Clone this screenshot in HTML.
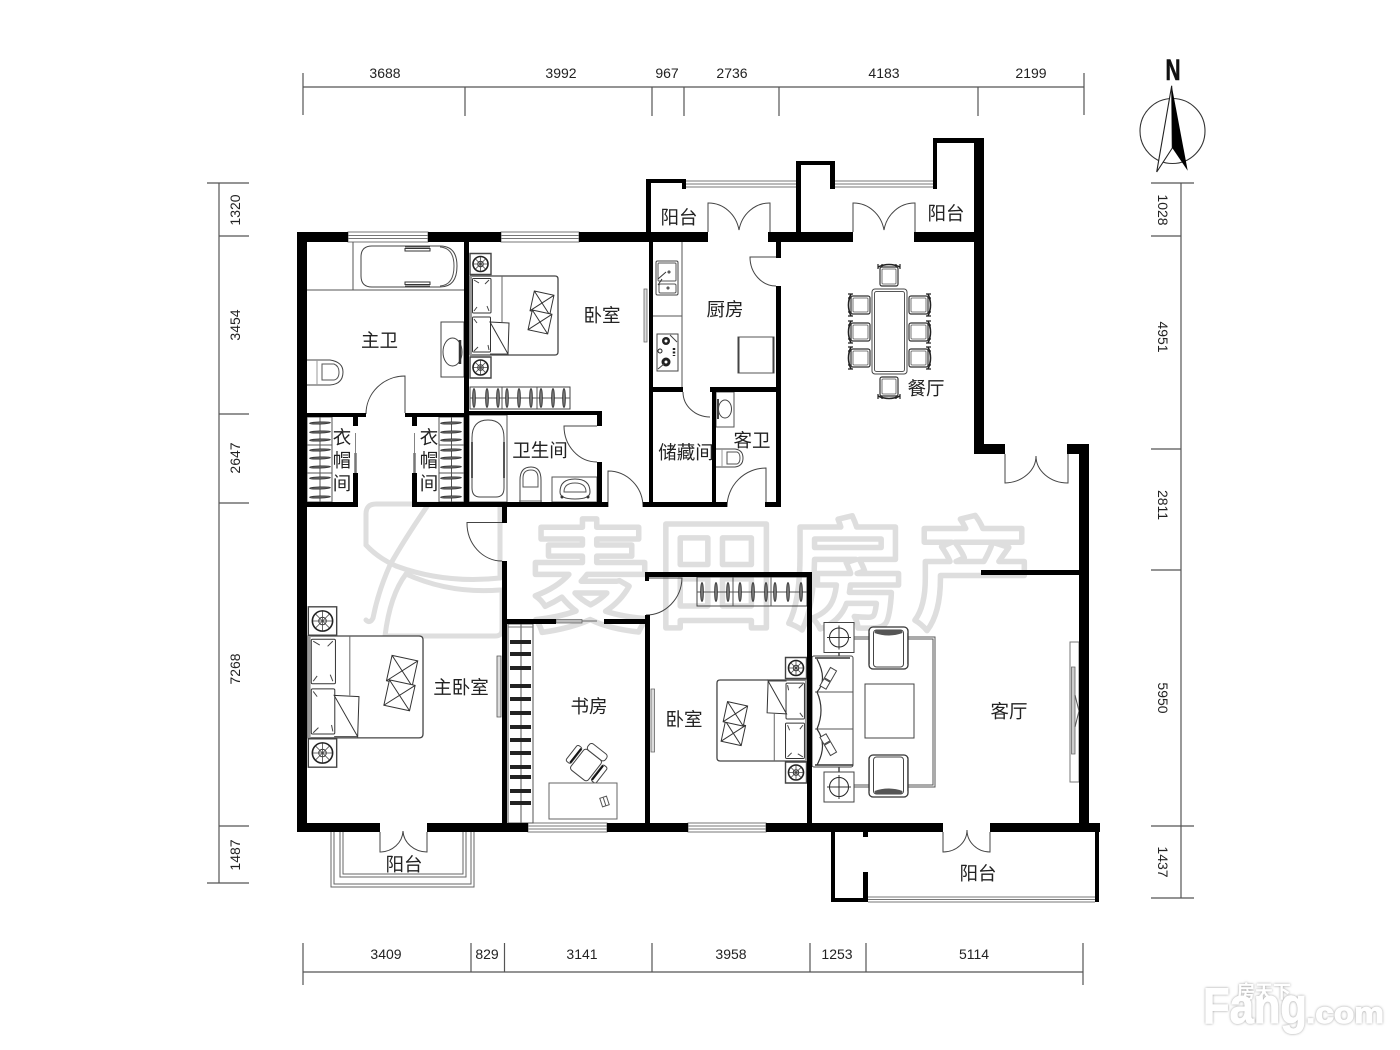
<!DOCTYPE html>
<html><head><meta charset="utf-8"><style>
html,body{margin:0;padding:0;background:#fff;width:1400px;height:1050px;overflow:hidden}
svg{display:block}
svg *{vector-effect:non-scaling-stroke}
.t{font:18.5px "Liberation Sans","Noto Sans CJK SC",sans-serif;text-anchor:middle;fill:#222}
.d{font:14px "Liberation Sans",sans-serif;text-anchor:middle;fill:#222}
.f{fill:none;stroke:#555;stroke-width:1}
.fw{fill:#fff;stroke:#444;stroke-width:1}
.dim{stroke:#555;stroke-width:1.2;fill:none}
.door{fill:none;stroke:#444;stroke-width:1}
.wm{font:bold 120px "Noto Sans CJK SC","Liberation Sans",sans-serif;fill:#fff;stroke:#dedede;stroke-width:5.5;stroke-linejoin:round;text-anchor:middle}
</style></head><body>
<svg width="1400" height="1050" viewBox="0 0 1400 1050" xmlns="http://www.w3.org/2000/svg">
<defs>
<g id="ns"><rect x="-10.5" y="-10.5" width="21" height="21" fill="#fff" stroke="#444" stroke-width="1.4"/><circle r="7.5" fill="#fff" stroke="#222" stroke-width="1.6"/><circle r="2.8" fill="none" stroke="#333"/><path d="M-7 0H7M0-7V7M-5-5L5 5M-5 5L5-5" stroke="#444" stroke-width=".8"/></g>
<g id="cu"><path d="M-11-9L9-11L11 9L-9 11Z M-11-9L11 9 M9-11L-9 11" fill="#fff" stroke="#333" stroke-width="1"/></g>
<g id="bed">
<path d="M0 0H85Q88 0 88 3V76Q88 79 85 79H0Z" fill="#fff" stroke="#444" stroke-width="1.3"/>
<rect x="0" y="0" width="2" height="79" fill="#999"/>
<path d="M32 0V46" stroke="#666" fill="none"/>
<rect x="2.5" y="2.5" width="18.5" height="34.5" rx="1" fill="#fff" stroke="#333"/>
<rect x="2.5" y="41" width="18" height="35" rx="1" fill="#fff" stroke="#333"/>
<path d="M4 4L9 7M19 4L15 8M4 35L7 31M19 35L17 30M4 43L7 47M19 74L18 69M4 75L8 71" stroke="#444" fill="none"/>
<path d="M20 46L39 47L38 78Z" fill="#fff" stroke="#333"/>
<path d="M38 78H20" stroke="#444"/>
<use href="#cu" transform="translate(72,27) rotate(18)"/>
<use href="#cu" transform="translate(70,46) rotate(18)"/>
</g>
<ellipse id="sv" rx="1.4" ry="9.5" fill="#777" stroke="#333" stroke-width=".8"/>
<ellipse id="sh" rx="10.5" ry="1.1" fill="#666" stroke="#333" stroke-width=".7" transform="rotate(-2)"/>
<g id="ch"><path d="M-11-8Q0-13 11-8" fill="none" stroke="#222" stroke-width="1.6"/><path d="M-11-11V-6M11-11V-6M-7-11V-6M7-11V-6" stroke="#222" stroke-width="1.2"/><rect x="-9" y="-8" width="18" height="19" rx="2" fill="#fff" stroke="#333" stroke-width="1.2"/><rect x="-7" y="-6" width="14" height="15" rx="1" fill="none" stroke="#555" stroke-width=".8"/></g>
<g id="ac"><rect x="-19.5" y="-21" width="39" height="42" rx="4" fill="#fff" stroke="#333" stroke-width="1.3"/><rect x="-15" y="-18" width="30" height="37" rx="3" fill="#fff" stroke="#444"/><path d="M-14-15Q0-10 14-15L13-18H-13Z" fill="#555"/><path d="M-19 -15V16M19 -15V16" stroke="#666" stroke-width="1"/></g>
<g id="lamp"><rect x="-15" y="-15" width="30" height="30" fill="#fff" stroke="#444"/><circle r="9.5" fill="none" stroke="#222"/><path d="M-12 0H12M0-12V12" stroke="#333"/></g>
</defs>

<rect width="1400" height="1050" fill="#fff"/>

<!-- watermark -->
<g>
<text class="wm" x="590" y="621">麦</text>
<text class="wm" x="716" y="618">田</text>
<text class="wm" x="846" y="618">房</text>
<text class="wm" x="972" y="618">产</text>
<g fill="none" stroke="#dedede" stroke-width="5" stroke-linecap="round">
<path d="M440 504H376Q366 504 366 514V545Q378 558 396 566"/>
<path d="M428 505Q404 540 390 565Q378 592 373 618Q370 624 366 620"/>
<path d="M396 566Q445 584 500 578M406 574Q450 594 500 590"/>
<path d="M385 636Q390 595 406 574M386 636H495Q502 636 502 630V590"/>
<path d="M500 504V578"/>
</g>
</g>

<!-- dimensions -->
<g class="dim">
<path d="M303 87H1084M303 73V115M465 87V116M652 87V116M684 87V116M779 87V116M978 87V116M1084 73V115"/>
<path d="M303 972H1083M303 943V985M471 943V972M504.500 943V972M652 943V972M810 943V972M866 943V972M1083 943V985"/>
<path d="M219 183V883M207 183H249M219 236H249M219 414H249M219 503H249M219 826H249M207 883H249"/>
<path d="M1181 183V898M1151 183H1194M1151 236H1181M1151 449H1181M1151 570H1181M1151 826H1194M1151 898H1194"/>
</g>
<g class="d">
<text class="d" x="385" y="78">3688</text><text class="d" x="561" y="78">3992</text><text class="d" x="667" y="78">967</text><text class="d" x="732" y="78">2736</text><text class="d" x="884" y="78">4183</text><text class="d" x="1031" y="78">2199</text>
<text class="d" x="386" y="959">3409</text><text class="d" x="487" y="959">829</text><text class="d" x="582" y="959">3141</text><text class="d" x="731" y="959">3958</text><text class="d" x="837" y="959">1253</text><text class="d" x="974" y="959">5114</text>
<text class="d" transform="translate(240,210) rotate(-90)">1320</text><text class="d" transform="translate(240,325) rotate(-90)">3454</text><text class="d" transform="translate(240,458) rotate(-90)">2647</text><text class="d" transform="translate(240,669) rotate(-90)">7268</text><text class="d" transform="translate(240,855) rotate(-90)">1487</text>
<text class="d" transform="translate(1158,210) rotate(90)">1028</text><text class="d" transform="translate(1158,337) rotate(90)">4951</text><text class="d" transform="translate(1158,505) rotate(90)">2811</text><text class="d" transform="translate(1158,698) rotate(90)">5950</text><text class="d" transform="translate(1158,862) rotate(90)">1437</text>
</g>

<!-- compass -->
<text x="1173" y="80" font-family="Liberation Sans" font-weight="bold" font-size="30" text-anchor="middle" textLength="15" lengthAdjust="spacingAndGlyphs" fill="#111" stroke="#111" stroke-width=".6">N</text>
<circle cx="1172.500" cy="131" r="32.500" fill="none" stroke="#333" stroke-width="1.1"/>
<path d="M1171.700 85.700L1156.700 172L1172.300 148Z" fill="#fff" stroke="#222" stroke-width="1.1"/>
<path d="M1171.700 85.700L1172.300 148L1187.700 170.700Z" fill="#000"/>

<!-- windows -->
<g fill="#fff" stroke="#777" stroke-width="1">
<rect x="348" y="232" width="80" height="10"/><path d="M348 235.500H428M348 238.500H428"/>
<rect x="501" y="232" width="78" height="10"/><path d="M501 235.500H579M501 238.500H579"/>
<rect x="528" y="823" width="79" height="9"/><path d="M528 826H607M528 829H607"/>
<rect x="688" y="823" width="78" height="9"/><path d="M688 826H766M688 829H766"/>
<path d="M686 181H796M686 184H796M686 187H796"/>
<path d="M835 181H933M835 184H933M835 187H933"/>
<path d="M868 897H1095M868 899.500H1095M868 902H1095"/>
</g>
<!-- balcony 1 rail -->
<path d="M331 832V887H474V832M334 832V884H471V832M340 832V877H466V832M343 832V874H463V832" fill="none" stroke="#666"/>

<!-- fixtures: master bath -->
<path d="M307 290H464M353 242V290" class="f"/>
<path d="M372 246H440Q457 246 457 266Q457 287 440 287H372Q361 287 361 276V257Q361 246 372 246Z" class="fw"/>
<path d="M440 247Q454 248 454 266Q454 285 440 286" class="f"/>
<path d="M405 247H430M405 286H430" stroke="#444"/>
<path d="M405 248.500H430V251H405ZM405 282H430V284.500H405Z" fill="#fff" stroke="#333"/>
<rect x="441" y="322" width="23" height="55" class="fw"/>
<ellipse cx="452.500" cy="352" rx="9.500" ry="14" class="fw"/><path d="M460 340V364" stroke="#333" stroke-width="2.500"/>
<path d="M307 360H330Q343 362 343 372Q343 384 330 385H307" class="fw"/><path d="M322 364H334Q339 366 339 372Q339 379 334 380H322Z" class="f"/><path d="M317 360V385" stroke="#999"/>
<path class="door" d="M405 413V376A39 38 0 0 0 366 414"/>

<!-- wardrobes left -->
<g class="f">
<rect x="307" y="417" width="25" height="85"/><path d="M307 445H332M307 473H332M320 417V502"/>
<rect x="439" y="417" width="25" height="85"/><path d="M439 445H464M439 473H464M451.500 417V502"/>
</g>
<g>
<use href="#sh" x="320" y="423"/><use href="#sh" x="320" y="432"/><use href="#sh" x="320" y="440"/><use href="#sh" x="320" y="450"/><use href="#sh" x="320" y="458"/><use href="#sh" x="320" y="467"/><use href="#sh" x="320" y="478"/><use href="#sh" x="320" y="488"/><use href="#sh" x="320" y="497"/>
<use href="#sh" x="451" y="423"/><use href="#sh" x="451" y="432"/><use href="#sh" x="451" y="440"/><use href="#sh" x="451" y="450"/><use href="#sh" x="451" y="458"/><use href="#sh" x="451" y="467"/><use href="#sh" x="451" y="478"/><use href="#sh" x="451" y="488"/><use href="#sh" x="451" y="497"/>
</g>
<path d="M355.500 433V453M414.500 433V453" stroke="#666" stroke-width=".8"/>
<path d="M355.500 453V473M414.500 453V473" stroke="#777" stroke-width="2.500"/>

<!-- bedroom 1 -->
<use href="#ns" transform="translate(480.500,264)"/>
<use href="#ns" transform="translate(480.500,367.500)"/>
<use href="#bed" transform="translate(470,276)"/>
<g class="f"><rect x="470" y="387" width="100" height="22" stroke="#444"/><path d="M470 398H570M502 387V409M537 387V409"/></g>
<g><use href="#sv" x="474" y="398"/><use href="#sv" x="487" y="398"/><use href="#sv" x="498" y="398"/><use href="#sv" x="507" y="398"/><use href="#sv" x="519" y="398"/><use href="#sv" x="531" y="398"/><use href="#sv" x="541" y="398"/><use href="#sv" x="553" y="398"/><use href="#sv" x="564" y="398"/></g>

<!-- bath 2 -->
<rect x="469" y="415" width="38" height="87" class="f"/>
<path d="M472 438Q472 420 488 420Q504 420 504 438V488Q504 497 496 497H480Q472 497 472 488Z" class="fw"/>
<path d="M472 442V478M504 442V478" stroke="#555" stroke-width="2"/>
<path d="M520 502V480Q520 467 531 467Q541 467 541 480V502" class="fw"/><path d="M523 487V478Q523 470 531 470Q538 470 538 478V487Z" class="f"/><path d="M519 501H542" stroke="#666"/>
<rect x="552" y="477" width="45" height="25" class="f"/>
<path d="M560 492Q560 479 575 479Q590 479 590 492Q590 499 575 499Q560 499 560 492Z" class="fw"/><path d="M564 492Q564 483 575 483Q586 483 586 492Z" class="f"/><circle cx="562" cy="497" r="1.500" fill="#333"/><circle cx="588" cy="497" r="1.500" fill="#333"/>
<path class="door" d="M597 426H564A33 36 0 0 0 597 462"/>
<path class="door" d="M608 507V471A35 36 0 0 1 643 507"/>

<!-- kitchen -->
<path d="M682 242V387M653 316H682" class="f" stroke="#777"/>
<rect x="656" y="261" width="22" height="34" rx="1.500" class="fw"/>
<rect x="658" y="263" width="18" height="18" rx="1" class="f"/><rect x="659" y="284" width="17" height="9" rx="1.500" class="f"/>
<path d="M658 279L666 272M658 285L662 279" stroke="#333"/><circle cx="669" cy="272" r="1" fill="none" stroke="#333"/><circle cx="668" cy="288" r="1" fill="none" stroke="#333"/>
<rect x="657" y="334" width="21" height="37" class="fw"/>
<circle cx="666" cy="341" r="4" fill="#222"/><circle cx="666" cy="341" r="1.500" fill="#fff"/><circle cx="666" cy="362" r="4.500" fill="#222"/><circle cx="666" cy="362" r="1.500" fill="#fff"/><circle cx="660" cy="351" r="2" fill="none" stroke="#222"/>
<path d="M674 348V356" stroke="#222" stroke-width="2.500" stroke-dasharray="2 1.500"/><path d="M670 335L677 342M658 369L664 364" stroke="#444"/>
<rect x="644" y="289" width="3" height="53" fill="#ddd" stroke="#666" stroke-width=".8"/>
<rect x="738" y="337" width="36" height="36" fill="#fff" stroke="#555"/><path d="M738.500 337V373M773.500 337V373" stroke="#444" stroke-width="2"/>
<path class="door" d="M683 392A27 25 0 0 0 710 417"/>
<path class="door" d="M776 257H750A26 29 0 0 0 776 286"/>
<path class="door" d="M708 232V203A31 33 0 0 1 739 230A31 33 0 0 1 770 203V232"/>
<path class="door" d="M853 232V203A31 33 0 0 1 884 230A31 33 0 0 1 915 203V232"/>
<path class="door" d="M1005 454V483A32 27 0 0 0 1036 456A32 27 0 0 0 1068 483V454"/>

<!-- guest bath -->
<rect x="716" y="392" width="18" height="35" class="f"/>
<ellipse cx="725" cy="409" rx="6.500" ry="9" class="fw"/><path d="M718 399V419" stroke="#444" stroke-width="2"/>
<path d="M716 449H735Q743 450 743 458Q743 466 735 467H716" class="fw"/><path d="M727 452H737Q740 453 740 458Q740 463 737 464H727Z" class="f"/><path d="M722 449V467" stroke="#999"/>
<path class="door" d="M766 507V468A39 39 0 0 0 727 507"/>

<!-- dining -->
<rect x="872" y="289" width="35" height="85" rx="3" class="fw" stroke-width="1.2"/>
<rect x="874.500" y="291.500" width="30" height="80" rx="2" class="f"/>
<use href="#ch" transform="translate(889,275)"/>
<use href="#ch" transform="translate(889,388) rotate(180)"/>
<use href="#ch" transform="translate(859,305) rotate(-90)"/><use href="#ch" transform="translate(859,332) rotate(-90)"/><use href="#ch" transform="translate(859,358) rotate(-90)"/>
<use href="#ch" transform="translate(920,305) rotate(90)"/><use href="#ch" transform="translate(920,332) rotate(90)"/><use href="#ch" transform="translate(920,358) rotate(90)"/>

<!-- master bedroom -->
<use href="#ns" transform="translate(322.500,621) scale(1.35)"/>
<use href="#ns" transform="translate(322.500,753) scale(1.35)"/>
<use href="#bed" transform="translate(308,636) scale(1.307,1.29)"/>
<rect x="497" y="656" width="4" height="61" fill="#ddd" stroke="#555" stroke-width=".8"/>
<path class="door" d="M502 522.500H467A35 38 0 0 0 502 561"/>

<!-- study -->
<rect x="508" y="624" width="25" height="199" class="f"/><path d="M521 624V823" class="f"/><path d="M508 627H533" stroke="#777"/>
<g fill="#222"><rect x="510" y="640" width="21" height="4"/><rect x="510" y="652" width="21" height="4"/><rect x="510" y="666" width="21" height="4"/><rect x="510" y="684" width="21" height="4"/><rect x="510" y="697" width="21" height="4"/><rect x="510" y="711" width="21" height="4"/><rect x="510" y="725" width="21" height="4"/><rect x="510" y="738" width="21" height="4"/><rect x="510" y="751" width="21" height="4"/><rect x="510" y="765" width="21" height="4"/><rect x="510" y="775" width="21" height="4"/><rect x="510" y="789" width="21" height="4"/><rect x="510" y="801" width="21" height="4"/></g>
<rect x="556" y="619.500" width="26" height="3.500" fill="#bbb" stroke="#666" stroke-width=".8"/><path d="M582 621H597" stroke="#666"/>
<g transform="translate(586,765) rotate(38)">
<rect x="-11" y="-13" width="22" height="26" rx="3" class="fw" stroke-width="1.2"/>
<rect x="-10" y="-21" width="22" height="8" rx="3" class="fw" stroke-width="1.2"/>
<rect x="-19" y="-11" width="6" height="20" rx="2" class="fw"/><path d="M-14-10V8" stroke="#111" stroke-width="1.800"/>
<rect x="13" y="-11" width="6" height="20" rx="2" class="fw"/><path d="M14-10V8" stroke="#111" stroke-width="1.800"/>
</g>
<rect x="549" y="783" width="68" height="36" fill="#fff" stroke="#666"/>
<rect x="601" y="797" width="7" height="9" transform="rotate(-18 604.500 801.500)" class="f"/><path d="M604.500 797.500V806" stroke="#555" transform="rotate(-18 604.500 801.500)"/>

<!-- bedroom 3 -->
<rect x="651" y="689" width="3.500" height="63" fill="#ddd" stroke="#666" stroke-width=".8"/>
<rect x="697" y="577" width="110" height="29" fill="none" stroke="#444"/><path d="M697 592H807M733 577V606M771 577V606" class="f"/>
<g><use href="#sv" x="702" y="592"/><use href="#sv" x="716" y="592"/><use href="#sv" x="728" y="592"/><use href="#sv" x="740" y="592"/><use href="#sv" x="753" y="592"/><use href="#sv" x="766" y="592"/><use href="#sv" x="775" y="592"/><use href="#sv" x="788" y="592"/><use href="#sv" x="801" y="592"/></g>
<use href="#ns" transform="translate(796,668)"/>
<use href="#ns" transform="translate(796,772.500)"/>
<use href="#bed" transform="translate(807,761) scale(-1.023,-1.025)"/>
<path class="door" d="M649 578H682A36 38 0 0 1 646 615"/>

<!-- living room -->
<path d="M854 637H935V787H854M854 639H933V785H854" class="f"/>
<rect x="838" y="652" width="2" height="5" fill="#777"/><rect x="838" y="767" width="2" height="5" fill="#777"/>
<use href="#lamp" transform="translate(839,637.500)"/><use href="#lamp" transform="translate(839,787)"/>
<rect x="812" y="656" width="41" height="111" rx="2" class="fw"/>
<path d="M815 692H853M815 729H853" class="f"/>
<path d="M817 659Q828 680 817 692Q825 710 817 729Q828 745 817 765" fill="none" stroke="#333" stroke-width="1.2"/>
<path d="M815 658H850M815 765H853" stroke="#333" stroke-width="1.500"/>
<g transform="translate(829,677) rotate(30)"><rect x="-3.500" y="-9" width="7" height="12" class="fw"/><rect x="-3.500" y="4" width="7" height="8" class="fw"/></g>
<g transform="translate(829,746) rotate(-30)"><rect x="-3.500" y="-12" width="7" height="8" class="fw"/><rect x="-3.500" y="-3" width="7" height="12" class="fw"/></g>
<use href="#ac" transform="translate(888.500,648)"/>
<use href="#ac" transform="translate(888.500,776) scale(1,-1)"/>
<rect x="865" y="684" width="49" height="54" class="fw"/>
<rect x="1070" y="642" width="9" height="140" fill="#fff" stroke="#777"/>
<rect x="1071.500" y="667" width="3.500" height="87" fill="#ccc" stroke="#666" stroke-width=".8"/><path d="M1075 695L1079 711L1075 727" class="f"/>

<!-- doors lower -->
<path class="door" d="M380 832V852A23 22 0 0 0 403 831A24 22 0 0 0 427 852V832"/>
<path class="door" d="M943 832V852A24 22 0 0 0 967 830A23 22 0 0 0 990 852V832"/>

<!-- walls -->
<g fill="#000">
<rect x="297" y="232" width="51" height="10"/><rect x="428" y="232" width="73" height="10"/><rect x="579" y="232" width="129" height="10"/><rect x="768" y="232" width="85" height="10"/><rect x="914" y="232" width="70" height="10"/>
<rect x="297" y="232" width="10" height="600"/>
<rect x="297" y="823" width="83" height="9"/><rect x="427" y="823" width="101" height="9"/><rect x="607" y="823" width="81" height="9"/><rect x="766" y="823" width="177" height="9"/><rect x="990" y="823" width="110" height="9"/>
<rect x="1079" y="444" width="10" height="379"/><rect x="974" y="138" width="10" height="316"/><rect x="974" y="444" width="31" height="10"/><rect x="1067" y="444" width="22" height="10"/>
<rect x="933" y="138" width="51" height="5"/><rect x="933" y="138" width="4" height="51"/><rect x="796" y="161" width="39" height="4"/><rect x="796" y="161" width="5" height="71"/><rect x="830" y="161" width="5" height="28"/>
<rect x="646" y="179" width="40" height="4"/><rect x="646" y="179" width="5" height="53"/><rect x="682" y="179" width="4" height="10"/>
<rect x="649" y="242" width="4" height="265"/><rect x="653" y="387" width="30" height="5"/><rect x="710" y="387" width="71" height="5"/><rect x="712" y="387" width="4" height="120"/><rect x="776" y="242" width="5" height="16"/><rect x="776" y="286" width="5" height="221"/>
<rect x="464" y="232" width="5" height="275"/>
<rect x="307" y="413" width="59" height="4"/><rect x="405" y="413" width="64" height="4"/><rect x="353" y="413" width="5" height="13"/><rect x="353" y="473" width="5" height="34"/><rect x="412" y="413" width="5" height="13"/><rect x="412" y="473" width="5" height="34"/>
<rect x="469" y="411" width="133" height="4"/><rect x="597" y="411" width="5" height="15"/><rect x="597" y="462" width="5" height="45"/>
<rect x="307" y="502" width="51" height="5"/><rect x="412" y="502" width="196" height="5"/><rect x="643" y="502" width="84" height="5"/><rect x="765" y="502" width="16" height="5"/>
<rect x="502" y="507" width="5" height="16"/><rect x="502" y="561" width="5" height="271"/>
<rect x="507" y="619" width="49" height="5"/><rect x="604" y="619" width="46" height="5"/>
<rect x="645" y="572" width="4" height="9"/><rect x="645" y="615" width="5" height="217"/><rect x="645" y="572" width="167" height="5"/><rect x="807" y="572" width="5" height="260"/>
<rect x="981" y="570" width="98" height="5"/>
<rect x="831" y="832" width="4" height="70"/><rect x="831" y="898" width="37" height="4"/><rect x="863" y="872" width="5" height="30"/><rect x="863" y="832" width="5" height="5"/><rect x="1095" y="832" width="4" height="70"/>
</g>

<!-- labels -->
<text class="t" x="379.500" y="347">主卫</text>
<text class="t" x="602" y="322">卧室</text>
<text class="t" x="540" y="457">卫生间</text>
<text class="t" x="725" y="316">厨房</text>
<text class="t" x="686" y="459">储藏间</text>
<text class="t" x="752" y="447">客卫</text>
<text class="t" x="679" y="224">阳台</text>
<text class="t" x="946" y="220">阳台</text>
<text class="t" x="926" y="395">餐厅</text>
<text class="t" x="461" y="694">主卧室</text>
<text class="t" x="589" y="713">书房</text>
<text class="t" x="684" y="726">卧室</text>
<text class="t" x="1009" y="718">客厅</text>
<text class="t" x="404" y="871">阳台</text>
<text class="t" x="978" y="880">阳台</text>
<text class="t" x="342" y="444">衣</text><text class="t" x="342" y="467">帽</text><text class="t" x="342" y="490">间</text>
<text class="t" x="429" y="444">衣</text><text class="t" x="429" y="467">帽</text><text class="t" x="429" y="490">间</text>

<!-- site mark -->
<defs><filter id="sd" x="-20%" y="-20%" width="140%" height="140%"><feDropShadow dx="0" dy="0" stdDeviation="1.2" flood-color="#999"/></filter></defs>
<g filter="url(#sd)" fill="#fff" stroke="#fff" stroke-width="1">
<text x="1203" y="1023" font-family="Liberation Sans" font-weight="bold" font-size="50" textLength="104" lengthAdjust="spacingAndGlyphs">Fang</text>
<text x="1306" y="1023" font-family="Liberation Sans" font-weight="bold" font-size="30" textLength="78" lengthAdjust="spacingAndGlyphs">.com</text>
<text x="1237" y="998" font-family="Liberation Sans,Noto Sans CJK SC,sans-serif" font-size="18" font-weight="bold" stroke="none">房天下</text>
</g>
</svg>
</body></html>
